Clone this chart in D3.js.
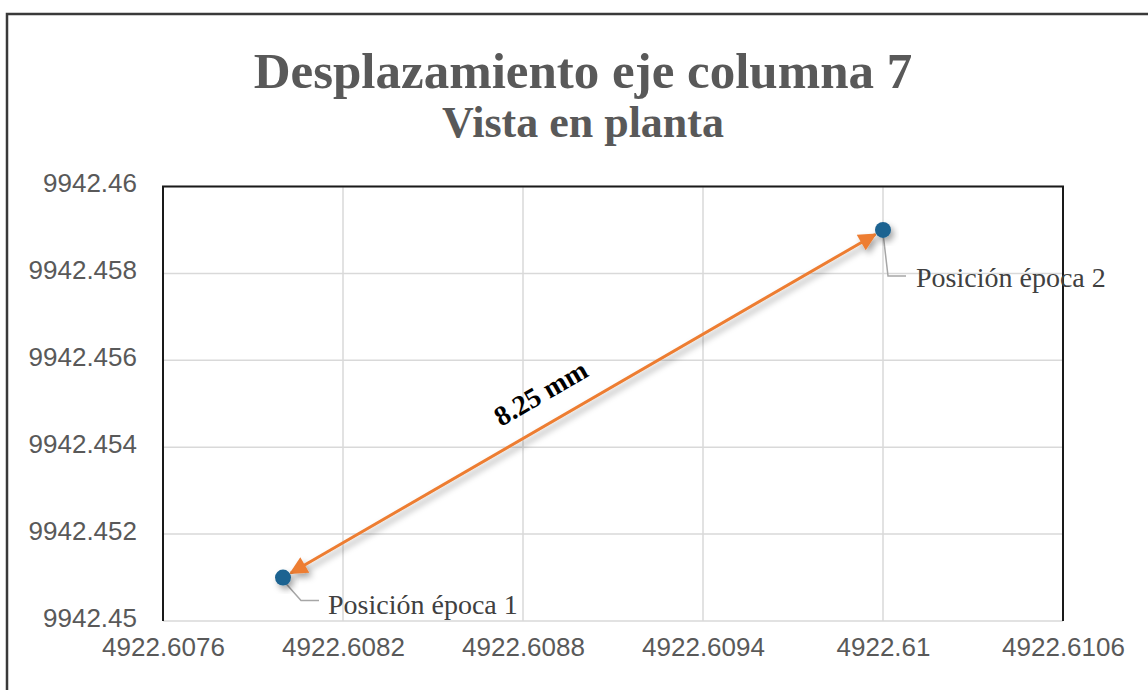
<!DOCTYPE html>
<html>
<head>
<meta charset="utf-8">
<script src="https://cdn.jsdelivr.net/npm/d3@7"></script>
<style>
  body { margin: 0; background: #fff; }
  svg { display: block; }
</style>
</head>
<body>
<svg width="1148" height="690"></svg>
<script>
// data
var xTicks = [4922.6076, 4922.6082, 4922.6088, 4922.6094, 4922.61, 4922.6106];
var yTicks = [9942.45, 9942.452, 9942.454, 9942.456, 9942.458, 9942.46];
var pointNames = ["Posición época 1", "Posición época 2"];
var pointX = [4922.6080, 4922.6100];
var pointY = [9942.451, 9942.459];
var distanceLabel = "8.25 mm";

var svg = d3.select("svg"),
    margin = {top: 186.5, right: 85, bottom: 69, left: 163},
    width = svg.attr("width") - margin.left - margin.right,
    height = svg.attr("height") - margin.top - margin.bottom;

var defs = svg.append("defs");

// soft shadow like the office chart
var shadow = defs.append("filter").attr("id", "shadow")
    .attr("x", "-50%").attr("y", "-50%").attr("width", "200%").attr("height", "200%");
shadow.append("feDropShadow")
    .attr("dx", 3).attr("dy", 4).attr("stdDeviation", 3)
    .attr("flood-color", "#000").attr("flood-opacity", 0.35);

["start", "end"].forEach(function(k) {
  defs.append("marker")
      .attr("id", "arrow-" + k)
      .attr("viewBox", "0 0 10 10")
      .attr("refX", 9).attr("refY", 5)
      .attr("markerWidth", 7).attr("markerHeight", 6)
      .attr("markerUnits", "strokeWidth")
      .attr("orient", k == "end" ? "auto" : "auto-start-reverse")
    .append("path")
      .attr("d", "M0,0 L10,5 L0,10 z")
      .attr("fill", "#ED7D31");
});

// outer chart border
svg.append("rect")
    .attr("x", 7).attr("y", 14)
    .attr("width", 1160).attr("height", 700)
    .attr("fill", "none")
    .attr("stroke", "#3a3a3a")
    .attr("stroke-width", 2.5);

// titles
svg.append("text")
    .attr("x", 583).attr("y", 88)
    .attr("text-anchor", "middle")
    .style("font", "bold 51px 'Liberation Serif', serif")
    .style("fill", "#595959")
    .text("Desplazamiento eje columna 7");
svg.append("text")
    .attr("x", 583).attr("y", 137)
    .attr("text-anchor", "middle")
    .style("font", "bold 44px 'Liberation Serif', serif")
    .style("fill", "#595959")
    .text("Vista en planta");

var g = svg.append("g").attr("transform", "translate(" + margin.left + "," + margin.top + ")");

var x = d3.scaleLinear().domain([xTicks[0], xTicks[xTicks.length - 1]]).range([0, width]),
    y = d3.scaleLinear().domain([yTicks[0], yTicks[yTicks.length - 1]]).range([height, 0]);

// gridlines
g.append("g").selectAll("line").data(xTicks).enter().append("line")
    .attr("x1", function(d) { return x(d); }).attr("x2", function(d) { return x(d); })
    .attr("y1", 0).attr("y2", height)
    .attr("stroke", "#d9d9d9").attr("stroke-width", 1.5);
g.append("g").selectAll("line").data(yTicks).enter().append("line")
    .attr("x1", 0).attr("x2", width)
    .attr("y1", function(d) { return y(d); }).attr("y2", function(d) { return y(d); })
    .attr("stroke", "#d9d9d9").attr("stroke-width", 1.5);

// plot area frame: left, top, right are dark
g.append("path")
    .attr("d", "M0," + height + "V0H" + width + "V" + height)
    .attr("fill", "none")
    .attr("stroke", "#1a1a1a")
    .attr("stroke-width", 2);

// axes
var xAxis = g.append("g")
    .attr("transform", "translate(0," + height + ")")
    .call(d3.axisBottom(x).tickValues(xTicks).tickSize(0).tickPadding(24).tickFormat(function(d) { return +d.toFixed(4); }));
var yAxis = g.append("g")
    .call(d3.axisLeft(y).tickValues(yTicks).tickSize(0).tickPadding(26).tickFormat(function(d) { return +d.toFixed(3); }));
[xAxis, yAxis].forEach(function(a) {
  a.select(".domain").remove();
  a.selectAll("text")
      .style("font-family", "'Liberation Sans', Arial, sans-serif")
      .style("font-size", "26px")
      .style("fill", "#595959");
});
yAxis.selectAll("text").attr("dy", "0.2em");
xAxis.selectAll("text").attr("dy", "0.42em");

var pts = pointX.map(function(v, i) { return {name: pointNames[i], px: x(v), py: y(pointY[i])}; });

// double arrow between the two positions
var r = 8;
var ang = Math.atan2(pts[1].py - pts[0].py, pts[1].px - pts[0].px);
var ux = Math.cos(ang), uy = Math.sin(ang);
g.append("line")
    .attr("x1", pts[0].px + ux * (r + 1)).attr("y1", pts[0].py + uy * (r + 1))
    .attr("x2", pts[1].px - ux * (r + 1)).attr("y2", pts[1].py - uy * (r + 1))
    .attr("stroke", "#ED7D31")
    .attr("stroke-width", 3)
    .attr("marker-start", "url(#arrow-start)")
    .attr("marker-end", "url(#arrow-end)")
    .attr("filter", "url(#shadow)");

// distance label along the arrow
var t = 0.455;
var lx = pts[0].px + (pts[1].px - pts[0].px) * t,
    ly = pts[0].py + (pts[1].py - pts[0].py) * t;
g.append("text")
    .attr("transform", "translate(" + lx + "," + ly + ") rotate(" + (ang * 180 / Math.PI) + ")")
    .attr("y", -21)
    .attr("text-anchor", "middle")
    .style("font", "bold 28px 'Liberation Serif', serif")
    .style("fill", "#000")
    .text(distanceLabel);

// leader lines and data labels
var leaders = [
  {path: [[2, 5], [18, 23], [36, 23]], tx: 45, ty: 36},
  {path: [[0, 3], [5, 46], [23, 46]], tx: 33, ty: 57}
];
pts.forEach(function(p, i) {
  var L = leaders[i];
  g.append("path")
      .attr("d", d3.line()(L.path.map(function(q) { return [p.px + q[0], p.py + q[1]]; })))
      .attr("fill", "none")
      .attr("stroke", "#a6a6a6")
      .attr("stroke-width", 1.5);
  g.append("text")
      .attr("x", p.px + L.tx).attr("y", p.py + L.ty)
      .style("font", "28px 'Liberation Serif', serif")
      .style("fill", "#404040")
      .text(p.name);
});

// markers
g.selectAll(".pt").data(pts).enter().append("circle")
    .attr("class", "pt")
    .attr("cx", function(d) { return d.px; })
    .attr("cy", function(d) { return d.py; })
    .attr("r", r)
    .attr("fill", "#1F6391")
    .attr("filter", "url(#shadow)");
</script>
</body>
</html>
